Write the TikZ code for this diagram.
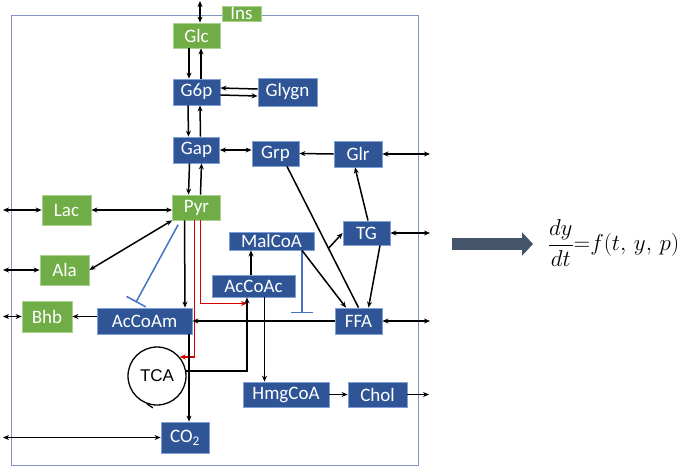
\RequirePackage{fix-cm}
\documentclass[tikz,border=0pt]{standalone}
\usepackage{fontspec}
\usepackage{amsmath}
\setmainfont{Carlito}
\newfontfamily\tcafont{Liberation Sans}
\usetikzlibrary{positioning,arrows.meta}
\definecolor{boxblue}{HTML}{2F5597}
\definecolor{blueedge}{HTML}{7F9FD6}
\definecolor{boxgreen}{HTML}{70AD47}
\definecolor{greenedge}{HTML}{A9D18E}
\definecolor{framecol}{HTML}{7F96C4}
\definecolor{inhblue}{HTML}{4472C4}
\definecolor{fastred}{HTML}{D40000}
\definecolor{arrowcol}{HTML}{44546A}

\begin{document}
\begin{tikzpicture}[x=1pt,y=-1pt,->,>={Stealth[length=6pt,width=5pt]},line width=1.5pt,node distance=57.5pt,on grid,
	box/.style={text=white,inner sep=0pt,line width=0.8pt,font=\fontsize{19}{21}\selectfont},
	blk/.style={box,fill=boxblue,draw=blueedge},
	grn/.style={box,fill=boxgreen,draw=greenedge},
	dims/.style 2 args={minimum width=#1,minimum height=#2},
	inhib/.style={-{Bar[width=22pt,line width=1.5pt]},draw=inhblue,line width=1.5pt},
	fast/.style={draw=fastred}]
	\useasboundingbox (0,0) rectangle (685,467);
	\draw[-,framecol,line width=1pt] (11,15) rectangle (418,465);
	% metabolites
	\node[grn,dims={47pt}{25pt}] (glc) at (196.5,35.5) {Glc};
	\node[blk,dims={47pt}{26pt}] (g6p) [below=56.5pt of glc] {G6p};
	\node[blk,dims={46pt}{26pt}] (gap) [below=58pt of g6p] {Gap};
	\node[grn,dims={48pt}{25pt}] (pyr) [below=of gap] {Pyr};
	\node[blk,dims={59pt}{28pt}] (glygn) [right=91pt of g6p] {Glygn};
	\node[grn,dims={39pt}{15pt}] (ins) at (241.5,13.5) {Ins};
	\node[blk,dims={47pt}{25pt}] (grp) at (275.5,153.5) {Grp};
	\node[blk,dims={48pt}{26pt}] (glr) at (358,154) {Glr};
	\node[grn,dims={49pt}{30pt}] (lac) at (66.5,210) {Lac};
	\node[grn,dims={49pt}{30pt}] (ala) at (64.5,270) {Ala};
	\node[grn,dims={50pt}{31pt}] (bhb) at (47,316.5) {Bhb};
	\node[blk,dims={95pt}{26pt}] (acam) at (144.5,321) {AcCoAm};
	\node[blk,dims={85pt}{18pt}] (malcoa) at (271.5,241) {MalCoA};
	\node[blk,dims={83pt}{22pt}] (acac) at (253.5,286) {AcCoAc};
	\node[blk,dims={47pt}{24pt}] (tg) at (366.5,233) {TG};
	\node[blk,dims={47pt}{26pt}] (ffa) at (358.5,321) {FFA};
	\node[blk,dims={86pt}{25pt}] (hmg) at (286,394.5) {HmgCoA};
	\node[blk,dims={59pt}{25pt}] (chol) at (377.5,394.5) {Chol};
	\node[blk,dims={48pt}{31pt}] (co2) at (185,437.5) {CO\textsubscript{2}};
	\node[draw,circle,minimum size=58pt,inner sep=0pt,line width=1.3pt,font=\tcafont\fontsize{17}{19}\selectfont] (tca) at (157,376) {TCA};
	\draw[-,line width=1.3pt] (tca.250) -- ++(6,4);
	% outside ends
	\coordinate (in-glc) at (200,1);
	\coordinate (in-lac) at (3,210);
	\coordinate (in-ala) at (3,270);
	\coordinate (in-bhb) at (3,316.5);
	\coordinate (in-co2) at (3,437.5);
	\coordinate (in-glr) at (430,154);
	\coordinate (in-tg) at (430,233);
	\coordinate (in-ffa) at (430,321);
	\coordinate (in-chol) at (429,394.5);
	\coordinate (fao) at (302,313);
	% glycolysis
	\draw[<->] ([xshift=3.5pt]glc.north) -- (in-glc);
	\draw ([xshift=-7.5pt]glc.south) -- ([xshift=-7.5pt]g6p.north);
	\draw[<-] ([xshift=4.5pt]glc.south) -- ([xshift=4.5pt]g6p.north);
	\draw[<-] ([yshift=4pt]g6p.east) -- ([yshift=3pt]glygn.west);
	\draw ([yshift=-3pt]g6p.east) -- ([yshift=-4pt]glygn.west);
	\draw ([xshift=-8.5pt]g6p.south) -- ([xshift=-8pt]gap.north);
	\draw[<-] ([xshift=3.5pt]g6p.south) -- ([xshift=4pt]gap.north);
	\draw ([xshift=-7pt]gap.south) -- ([xshift=-8pt]pyr.north);
	\draw[<-] ([xshift=5pt]gap.south) -- ([xshift=4pt]pyr.north);
	\draw[<->] (gap.east) -- (grp.west |- gap.east);
	\draw (glr.west) -- (grp.east);
	\draw[<->] (glr.east) -- (in-glr);
	% pyruvate exchange
	\draw[<->] (in-lac) -- (lac.west);
	\draw[<->] (lac.east) -- (pyr.west |- lac.east);
	\draw[<->] (in-ala) -- (ala.west);
	\draw[<->] (ala.east) -- (pyr.south west);
	\draw[<->] (in-bhb) -- (bhb.west);
	\draw (acam.west |- bhb.east) -- (bhb.east);
	\draw ([xshift=-12pt]pyr.south) -- ([xshift=40.5pt]acam.north);
	\draw[inhib,shorten <=5pt,shorten >=6pt] ([xshift=-16pt]pyr.south) -- ([xshift=-11.5pt]acam.north);
	\draw[fast] ([xshift=-2pt]pyr.south) |- (tca.40);
	\draw[fast] ([xshift=4pt]pyr.south) |- ([xshift=-6.5pt,yshift=-6pt]acac.south);
	% acetyl-CoA
	\draw (tca.10) -| ([xshift=-6.5pt]acac.south);
	\draw ([xshift=-2.5pt]acac.north) -- ([xshift=-20.5pt]malcoa.south);
	\draw ([xshift=11pt]acac.south) -- ([xshift=-21.5pt]hmg.north);
	\draw (hmg.east) -- (chol.west);
	\draw (chol.east) -- (in-chol);
	\draw ([xshift=44.5pt]acam.south) -- ([xshift=4pt]co2.north);
	\draw[<->] (in-co2) -- (co2.west);
	% lipids
	\draw (ffa.west) -- (acam.east);
	\draw[inhib] ([xshift=30.5pt]malcoa.south) -- (fao);
	\draw[-] ([xshift=11.5pt]grp.south) -- coordinate[pos=0.58] (tgjoin) (ffa.north);
	\draw (tgjoin) -- (tg.west);
	\draw ([xshift=30.5pt]malcoa.south) -- ([xshift=-12.5pt]ffa.north);
	\draw ([xshift=13.5pt]tg.south) -- ([xshift=10pt]ffa.north);
	\draw ([xshift=1.5pt]tg.north) -- ([xshift=-3pt]glr.south);
	\draw[<->] (tg.east) -- (in-tg);
	\draw[<->] (ffa.east) -- (in-ffa);
	% model
	\coordinate (lhs) at (452,244);
	\coordinate (rhs) at (533,244);
	\draw[-{Triangle[length=11pt,width=23pt]},line width=12pt,arrowcol] (lhs) -- (rhs);
	\node (ode) at (613.5,243) {\fontsize{23}{26}\selectfont$\dfrac{dy}{dt}{=}f(t,\,y,\,p)$};
\end{tikzpicture}
\end{document}
